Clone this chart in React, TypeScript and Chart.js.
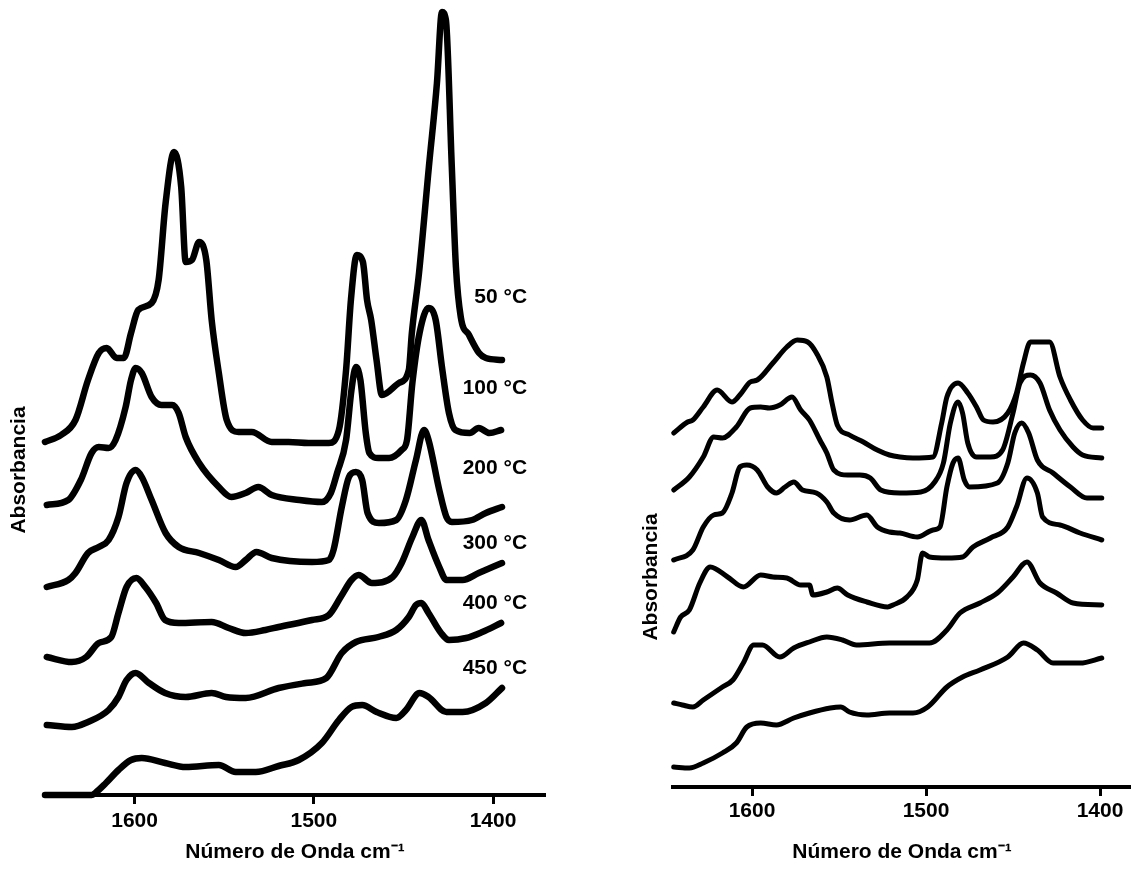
import React, { useEffect, useRef } from "react";
import { Chart, registerables } from "chart.js";

Chart.register(...registerables);
Chart.defaults.font.family = "'Liberation Sans', Arial, sans-serif";

// ---------- shared ----------
const xTicks = [1600, 1500, 1400];
const xTitle = "Número de Onda cm⁻¹";
const yTitle = "Absorbancia";

// ---------- left panel (wavenumber, stacked absorbance) ----------
const leftLabels = ["50 °C", "100 °C", "200 °C", "300 °C", "400 °C", "450 °C"];
const leftLabelY = [4.98, 4.07, 3.27, 2.52, 1.92, 1.27];
const leftLabelX = 1381;

const left50: [number, number][] = [
  [1650, 3.53], [1641, 3.6], [1633, 3.75], [1626, 4.15], [1620, 4.42], [1615.6, 4.47], [1610, 4.37],
  [1606, 4.37], [1602, 4.62], [1598, 4.85], [1590.5, 4.92], [1586.6, 5.15], [1582.7, 5.92], [1578, 6.43],
  [1574, 6.08], [1571.5, 5.33], [1568, 5.35], [1564, 5.53], [1560, 5.35], [1557, 4.75], [1553, 4.22],
  [1548.6, 3.75], [1542, 3.63], [1534.6, 3.63], [1523.5, 3.53], [1514, 3.53], [1503, 3.52], [1491.6, 3.52],
  [1486, 3.65], [1482, 4.25], [1479.3, 4.95], [1476, 5.4], [1472.6, 5.33], [1470.3, 4.95], [1468, 4.75],
  [1465, 4.35], [1462, 4.0], [1452.5, 4.12], [1447, 4.25], [1445.3, 4.62], [1441.3, 5.22], [1435.8, 6.28],
  [1431.3, 7.12], [1428.5, 7.83], [1426.3, 7.75], [1423, 6.28], [1420.7, 5.28], [1418, 4.78], [1413.4, 4.6],
  [1407.8, 4.42], [1404, 4.37], [1395, 4.35],
];
const left100: [number, number][] = [
  [1649, 2.9], [1637, 2.95], [1630, 3.15], [1624, 3.42], [1620, 3.48], [1614.5, 3.47], [1610.6, 3.55],
  [1605, 3.88], [1602, 4.15], [1599.4, 4.27], [1596, 4.22], [1590.5, 3.98], [1585, 3.9], [1579, 3.9],
  [1575.4, 3.82], [1571.5, 3.58], [1564, 3.32], [1553, 3.08], [1546, 2.98], [1538, 3.02], [1531, 3.08],
  [1523.5, 3.0], [1508, 2.95], [1495.5, 2.93], [1490.5, 3.02], [1487, 3.22], [1482, 3.55], [1479, 4.05],
  [1476.5, 4.28], [1474, 4.15], [1471, 3.62], [1469, 3.42], [1464, 3.37], [1458, 3.37], [1451, 3.45],
  [1448, 3.55], [1445, 4.12], [1441, 4.62], [1436, 4.87], [1432, 4.75], [1428.5, 4.28], [1424.6, 3.82],
  [1421, 3.65], [1413, 3.62], [1408, 3.67], [1402, 3.62], [1395.5, 3.65],
];
const left200: [number, number][] = [
  [1649, 2.08], [1637, 2.15], [1633, 2.22], [1626, 2.42], [1620, 2.48], [1614.5, 2.55], [1609, 2.78],
  [1604.5, 3.12], [1599.4, 3.25], [1596, 3.18], [1590.5, 2.95], [1582.7, 2.62], [1575.4, 2.48], [1564, 2.42],
  [1553, 2.35], [1543.6, 2.28], [1538, 2.35], [1532, 2.43], [1523.5, 2.37], [1501, 2.33], [1491.6, 2.35],
  [1489, 2.45], [1484.4, 2.88], [1480.4, 3.18], [1476.5, 3.23], [1473, 3.15], [1470, 2.82], [1463.7, 2.72],
  [1454, 2.75], [1448.6, 2.95], [1443, 3.35], [1438.5, 3.65], [1436, 3.55], [1430, 3.05], [1426, 2.78],
  [1423, 2.73], [1411.7, 2.75], [1404, 2.82], [1395, 2.88],
];
const left300: [number, number][] = [
  [1649, 1.38], [1635, 1.33], [1627, 1.38], [1620, 1.52], [1613, 1.58], [1609, 1.82], [1604.5, 2.08],
  [1599, 2.17], [1594, 2.08], [1588, 1.92], [1583, 1.75], [1575.4, 1.72], [1557, 1.73], [1547.5, 1.67],
  [1538, 1.62], [1527, 1.65], [1519.6, 1.68], [1501, 1.75], [1491.6, 1.8], [1485, 1.98], [1479, 2.15],
  [1475, 2.2], [1467.6, 2.12], [1456, 2.18], [1451, 2.32], [1445, 2.58], [1440, 2.75], [1436, 2.55],
  [1430, 2.28], [1426, 2.15], [1417, 2.15], [1408, 2.22], [1395, 2.32],
];
const left400: [number, number][] = [
  [1649, 0.7], [1635, 0.68], [1626, 0.73], [1614.5, 0.85], [1609, 0.98], [1604.5, 1.15], [1599.4, 1.22],
  [1592, 1.12], [1583, 1.02], [1571.5, 0.98], [1557, 1.02], [1549, 0.98], [1538, 0.97], [1519.6, 1.07],
  [1504.5, 1.12], [1493, 1.17], [1484.4, 1.42], [1476.5, 1.53], [1464, 1.58], [1454, 1.65], [1447, 1.78],
  [1443, 1.9], [1440, 1.92], [1436, 1.82], [1429, 1.62], [1424.6, 1.55], [1415, 1.57], [1406, 1.63],
  [1395.5, 1.72],
];
const left450: [number, number][] = [
  [1650, 0.0], [1624, 0.0], [1622, 0.02], [1616, 0.12], [1609, 0.25], [1602, 0.35], [1596, 0.37],
  [1583, 0.32], [1571.5, 0.28], [1553, 0.3], [1543.6, 0.23], [1532.4, 0.23], [1519.6, 0.29], [1508.4, 0.35],
  [1495.5, 0.52], [1486, 0.75], [1479, 0.88], [1473, 0.9], [1465, 0.83], [1454, 0.77], [1448.6, 0.85],
  [1441, 1.02], [1436, 0.98], [1426, 0.83], [1417, 0.83], [1404, 0.92], [1395, 1.07],
];

// ---------- right panel ----------
const right1: [number, number][] = [
  [1645, 3.54], [1637, 3.65], [1634, 3.67], [1628, 3.8], [1620, 3.97], [1611.5, 3.85], [1607, 3.92],
  [1601, 4.05], [1597, 4.07], [1588, 4.24], [1580, 4.4], [1574, 4.47], [1568, 4.45], [1563, 4.34],
  [1557, 4.1], [1554, 3.84], [1551, 3.62], [1544, 3.52], [1536, 3.45], [1528, 3.37], [1521, 3.32],
  [1515, 3.3], [1507.5, 3.29], [1496, 3.3], [1491, 3.64], [1488, 3.9], [1481.6, 4.04], [1476, 3.94],
  [1471, 3.8], [1467, 3.67], [1461.5, 3.65], [1453, 3.74], [1448, 3.94], [1444, 4.24], [1440, 4.45],
  [1429, 4.45], [1423, 4.1], [1417, 3.87], [1410, 3.67], [1404, 3.59], [1399, 3.59],
];
const right2: [number, number][] = [
  [1645, 2.97], [1636, 3.1], [1628, 3.3], [1622, 3.5], [1617, 3.49], [1609, 3.6], [1601, 3.79],
  [1595, 3.8], [1590, 3.79], [1584, 3.82], [1577, 3.9], [1572, 3.77], [1567, 3.67], [1561, 3.47],
  [1557, 3.34], [1553, 3.17], [1545, 3.12], [1538, 3.12], [1532, 3.09], [1526, 2.97], [1515, 2.94],
  [1503, 2.95], [1495, 3.05], [1490, 3.24], [1486, 3.64], [1481.6, 3.85], [1479, 3.74], [1476, 3.44],
  [1471, 3.3], [1463, 3.3], [1456, 3.37], [1450, 3.74], [1446, 4.04], [1440, 4.12], [1434.5, 4.04],
  [1429, 3.77], [1423, 3.57], [1415.5, 3.4], [1410, 3.32], [1399, 3.29],
];
const right3: [number, number][] = [
  [1645, 2.27], [1634, 2.37], [1628, 2.6], [1622, 2.72], [1617, 2.74], [1611.5, 2.94], [1607, 3.2],
  [1603, 3.22], [1597, 3.17], [1591, 3.0], [1586, 2.94], [1581, 3.0], [1576, 3.05], [1571, 2.97],
  [1563, 2.94], [1557, 2.85], [1553, 2.74], [1544, 2.67], [1534, 2.72], [1528, 2.6], [1521, 2.55],
  [1515, 2.54], [1505, 2.5], [1496, 2.57], [1492, 2.6], [1488, 3.0], [1484.5, 3.24], [1481.6, 3.29],
  [1478, 3.07], [1475, 3.0], [1459, 3.04], [1453, 3.24], [1449, 3.54], [1445, 3.64], [1441, 3.54],
  [1436, 3.27], [1427, 3.14], [1417, 3.0], [1407.5, 2.89], [1399, 2.89],
];
const right4: [number, number][] = [
  [1645, 1.55], [1641, 1.7], [1636, 1.77], [1630, 2.04], [1624, 2.2], [1614, 2.1], [1605, 2.0],
  [1595, 2.12], [1588, 2.1], [1580, 2.09], [1572, 2.02], [1567, 2.02], [1565, 1.92], [1557, 1.95],
  [1551, 1.99], [1545, 1.92], [1534, 1.85], [1522, 1.8], [1519, 1.82], [1511, 1.9], [1505, 2.07],
  [1502, 2.34], [1498, 2.3], [1488, 2.29], [1479, 2.3], [1473, 2.4], [1463, 2.49], [1453, 2.6],
  [1448, 2.8], [1442, 3.09], [1436, 2.94], [1433, 2.7], [1423, 2.62], [1411.5, 2.54], [1399, 2.47],
];
const right5: [number, number][] = [
  [1645, 0.84], [1640, 0.82], [1634, 0.8], [1628, 0.87], [1617, 1.0], [1611, 1.07], [1605, 1.24],
  [1599, 1.42], [1594, 1.42], [1584, 1.3], [1576, 1.39], [1567, 1.45], [1557, 1.5], [1548, 1.47],
  [1540, 1.42], [1521, 1.44], [1498, 1.44], [1488, 1.57], [1480.5, 1.74], [1469, 1.84], [1459, 1.94],
  [1450, 2.1], [1442, 2.25], [1434.5, 2.04], [1425, 1.94], [1415.5, 1.84], [1399, 1.82],
];
const right6: [number, number][] = [
  [1645, 0.2], [1636, 0.19], [1628, 0.24], [1617, 0.34], [1609, 0.44], [1603, 0.6], [1595, 0.64],
  [1586, 0.62], [1576, 0.69], [1567, 0.74], [1555, 0.79], [1549, 0.8], [1544, 0.75], [1534, 0.72],
  [1521, 0.74], [1507.5, 0.74], [1499, 0.8], [1488, 1.0], [1479, 1.1], [1469, 1.17], [1453, 1.3],
  [1444, 1.44], [1436, 1.37], [1427, 1.24], [1411.5, 1.24], [1399, 1.29],
];

const leftSeries = [left50, left100, left200, left300, left400, left450];
const rightSeries = [right1, right2, right3, right4, right5, right6];

const FONT = { family: "'Liberation Sans', Arial, sans-serif", size: 21, weight: "bold" as const };

const curveLabelPlugin = {
  id: "curveLabels",
  afterDatasetsDraw(chart: any, _args: any, opts: any) {
    if (!opts || !opts.texts || !opts.texts.length) return;
    const { ctx } = chart;
    const x = chart.scales.x;
    const y = chart.scales.y;
    ctx.save();
    ctx.font = "bold 21px 'Liberation Sans', Arial, sans-serif";
    ctx.fillStyle = "#000";
    ctx.textAlign = "right";
    ctx.textBaseline = "middle";
    opts.texts.forEach((t: string, i: number) => {
      ctx.fillText(t, x.getPixelForValue(opts.x), y.getPixelForValue(opts.y[i]));
    });
    ctx.restore();
  },
};

type PanelProps = {
  series: [number, number][][];
  width: number;
  left: number;
  lineWidth: number;
  xMin: number;
  xMax: number;
  yMax: number;
  padding: { top: number; right: number; bottom: number; left: number };
  yTitlePad: { top: number; bottom: number };
  xTitlePad: { top: number; bottom: number };
  tickPad: number;
  texts: string[];
  textY: number[];
  textX: number;
};

function Panel(p: PanelProps) {
  const ref = useRef<HTMLCanvasElement | null>(null);
  useEffect(() => {
    if (!ref.current) return;
    const chart = new Chart(ref.current, {
      type: "line",
      data: {
        datasets: p.series.map((s, i) => ({
          label: p.texts[i] || `s${i}`,
          data: s.map(([x, y]) => ({ x, y })),
          borderColor: "#000",
          borderWidth: p.lineWidth,
          pointRadius: 0,
          fill: false,
          cubicInterpolationMode: "monotone" as const,
          borderCapStyle: "round" as const,
          borderJoinStyle: "round" as const,
          clip: false as any,
        })),
      },
      options: {
        animation: false,
        responsive: false,
        devicePixelRatio: 1,
        layout: { padding: p.padding },
        plugins: {
          legend: { display: false },
          tooltip: { enabled: false },
          curveLabels: { texts: p.texts, y: p.textY, x: p.textX },
        } as any,
        scales: {
          x: {
            type: "linear",
            reverse: true,
            min: p.xMin,
            max: p.xMax,
            afterBuildTicks: (scale: any) => {
              scale.ticks = xTicks.map((v) => ({ value: v }));
            },
            ticks: {
              color: "#000",
              font: FONT,
              padding: p.tickPad,
              callback: (v: any) => String(v),
            },
            grid: {
              display: true,
              drawOnChartArea: false,
              drawTicks: true,
              tickLength: 9,
              tickWidth: 3,
              tickColor: "#000",
            },
            border: { display: true, color: "#000", width: 4 },
            title: {
              display: true,
              text: xTitle,
              color: "#000",
              font: FONT,
              padding: p.xTitlePad,
            },
          },
          y: {
            type: "linear",
            min: 0,
            max: p.yMax,
            ticks: { display: false },
            grid: { display: false, drawTicks: false },
            border: { display: false },
            title: {
              display: true,
              text: yTitle,
              color: "#000",
              font: FONT,
              padding: p.yTitlePad,
            },
          },
        },
      },
      plugins: [curveLabelPlugin],
    });
    return () => chart.destroy();
  }, []);
  return (
    <canvas
      ref={ref}
      width={p.width}
      height={870}
      style={{ position: "absolute", left: p.left, top: 0, width: p.width, height: 870 }}
    />
  );
}

export default function App() {
  return (
    <div
      style={{
        position: "fixed",
        left: 0,
        top: 0,
        width: 1131,
        height: 870,
        background: "#fff",
        overflow: "hidden",
      }}
    >
      <Panel
        series={leftSeries}
        width={560}
        left={0}
        lineWidth={6.5}
        xMin={1371}
        xMax={1650}
        yMax={6.5}
        padding={{ top: 145, right: 15, bottom: 1.6, left: 0 }}
        yTitlePad={{ top: 6.4, bottom: 13.4 }}
        xTitlePad={{ top: 0, bottom: 4 }}
        tickPad={5}
        texts={leftLabels}
        textY={leftLabelY}
        textX={leftLabelX}
      />
      <Panel
        series={rightSeries}
        width={531}
        left={600}
        lineWidth={5}
        xMin={1382.2}
        xMax={1645.4}
        yMax={4.2}
        padding={{ top: 367, right: 0, bottom: 1.6, left: 0 }}
        yTitlePad={{ top: 38.4, bottom: 9.4 }}
        xTitlePad={{ top: 12, bottom: 4 }}
        tickPad={3}
        texts={[]}
        textY={[]}
        textX={1400}
      />
    </div>
  );
}
